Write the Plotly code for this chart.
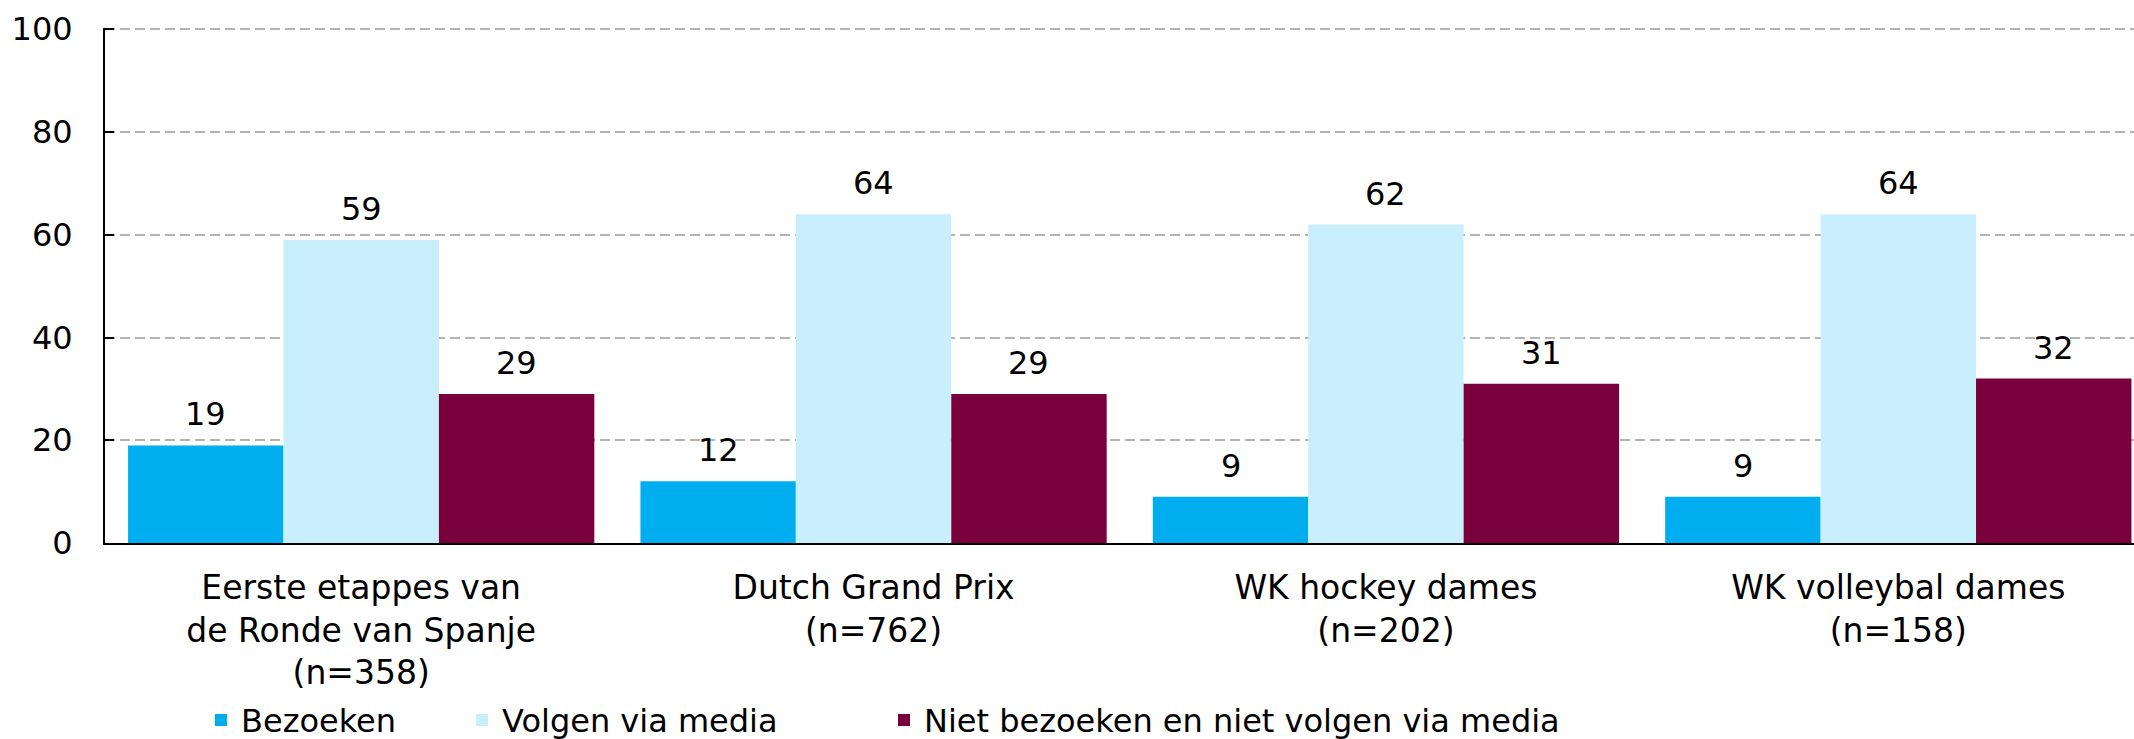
import plotly.graph_objects as go

categories = ["Eerste etappes van<br>de Ronde van Spanje<br>(n=358)",
              "Dutch Grand Prix<br>(n=762)",
              "WK hockey dames<br>(n=202)",
              "WK volleybal dames<br>(n=158)"]
series_names = ["Bezoeken", "Volgen via media", "Niet bezoeken en niet volgen via media"]
bezoeken = [19, 12, 9, 9]
volgen = [59, 64, 62, 64]
niet = [29, 29, 31, 32]
colors = ["#00AEEF", "#C9EEFC", "#7A003D"]
y_ticks = [0, 20, 40, 60, 80, 100]

FONT = "DejaVu Sans"
FS = 32
BARGAP = 0.09

xs = list(range(len(categories)))
series = [bezoeken, volgen, niet]
legend_ids = ["legend", "legend2", "legend3"]

fig = go.Figure()
for name, vals, col, lg in zip(series_names, series, colors, legend_ids):
    fig.add_trace(go.Bar(x=xs, y=vals, name=name, marker=dict(color=col, line=dict(width=0)),
                         legend=lg, hoverinfo="skip"))

# value labels above bars
bw = (1 - BARGAP) / 3
for j, vals in enumerate(series):
    for i, v in enumerate(vals):
        fig.add_annotation(x=i + (j - 1) * bw, y=v, text=str(v), showarrow=False,
                           yanchor="bottom", yshift=10,
                           font=dict(family=FONT, size=FS, color="#000"))

fig.update_layout(
    width=2134, height=739,
    margin=dict(l=105, r=0, t=28, b=196, autoexpand=False),
    paper_bgcolor="white", plot_bgcolor="white",
    barmode="group", bargap=BARGAP, bargroupgap=0,
    font=dict(family=FONT, size=FS, color="#000"),
    xaxis=dict(range=[-0.5, 3.46], tickvals=xs, ticktext=categories, showgrid=False,
               showline=True, linecolor="#000", linewidth=2, ticks="",
               ticklabelstandoff=14, tickfont=dict(size=33), zeroline=False),
    yaxis=dict(range=[0, 100.25], tickvals=y_ticks, showgrid=True, gridcolor="#B3B3B3",
               gridwidth=2, griddash="10px,5px", showline=True, linecolor="#000",
               linewidth=2, ticks="inside", ticklen=9, tickcolor="#000", tickwidth=2,
               ticklabelstandoff=24, zeroline=False, tickfont=dict(size=FS)),
    showlegend=True,
)
leg_common = dict(orientation="h", yanchor="middle", y=-0.344, xanchor="left",
                  font=dict(family=FONT, size=FS), bgcolor="rgba(0,0,0,0)")
# text starts at ~241, 502, 924 px; plotly text sits 40px from legend left
fig.update_layout(
    legend=dict(x=(241 - 40 - 105) / 2029, **leg_common),
    legend2=dict(x=(502 - 40 - 105) / 2029, **leg_common),
    legend3=dict(x=(924 - 40 - 105) / 2029, **leg_common),
)

fig.write_html("out.html", config={"displayModeBar": False},
               post_script="document.body.style.margin='0px';document.body.style.overflow='hidden';")
